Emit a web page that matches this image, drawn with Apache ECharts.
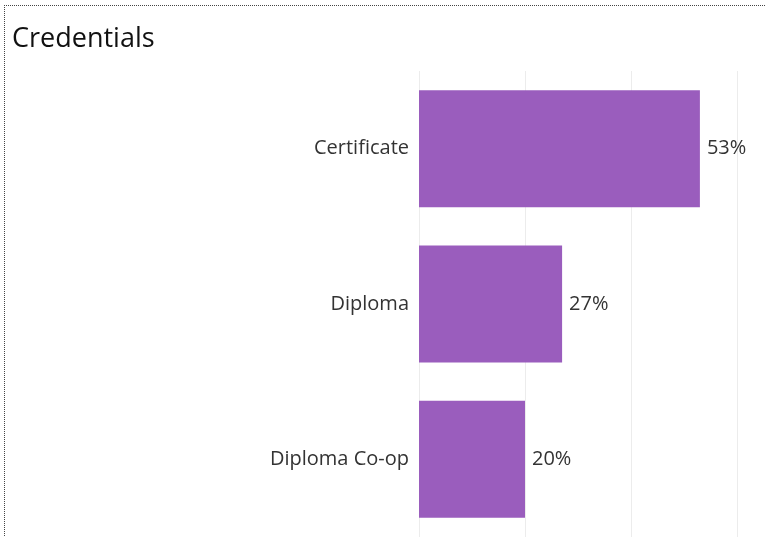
<!DOCTYPE html>
<html>
<head>
<meta charset="utf-8">
<script src="https://cdn.jsdelivr.net/npm/echarts@6/dist/echarts.min.js"></script>
<style>
html,body{margin:0;padding:0;background:#fff;}
#c{width:765px;height:537px;}
</style>
</head>
<body>
<div id="c"></div>
<script>
var categories = ["Certificate", "Diploma", "Diploma Co-op"];
var values = [53, 27, 20];
var titleText = "Credentials";

var chart = echarts.init(document.getElementById('c'), null, {renderer: 'canvas'});
chart.setOption({
  animation: false,
  backgroundColor: '#ffffff',
  title: {
    text: titleText,
    left: 12,
    top: 26,
    padding: 0,
    textStyle: {fontFamily: 'Open Sans', fontWeight: 'normal', fontSize: 27, color: '#111'}
  },
  graphic: [
    {type: 'line', shape: {x1: 4, y1: 5.5, x2: 765, y2: 5.5}, style: {stroke: '#444', lineWidth: 1, lineDash: [1, 1]}, silent: true},
    {type: 'line', shape: {x1: 4.5, y1: 5, x2: 4.5, y2: 537}, style: {stroke: '#444', lineWidth: 1, lineDash: [1, 1]}, silent: true}
  ],
  grid: {left: 419, right: 28, top: 71, bottom: -1, containLabel: false},
  xAxis: {
    type: 'value',
    min: 0,
    max: 60,
    interval: 20,
    axisLine: {show: false},
    axisTick: {show: false},
    axisLabel: {show: false},
    splitLine: {show: true, lineStyle: {color: '#ececec', width: 1}}
  },
  yAxis: {
    type: 'category',
    data: categories,
    inverse: true,
    axisLine: {show: false},
    axisTick: {show: false},
    axisLabel: {margin: 10, fontFamily: 'Open Sans', fontSize: 20, color: '#333'},
    splitLine: {show: false}
  },
  series: [{
    type: 'bar',
    data: values,
    barWidth: 117,
    itemStyle: {color: '#9a5dbd'},
    label: {
      show: true,
      position: 'right',
      distance: 7,
      formatter: function (p) { return p.value + '%'; },
      fontFamily: 'Open Sans',
      fontSize: 20,
      color: '#333'
    }
  }]
});
</script>
</body>
</html>
